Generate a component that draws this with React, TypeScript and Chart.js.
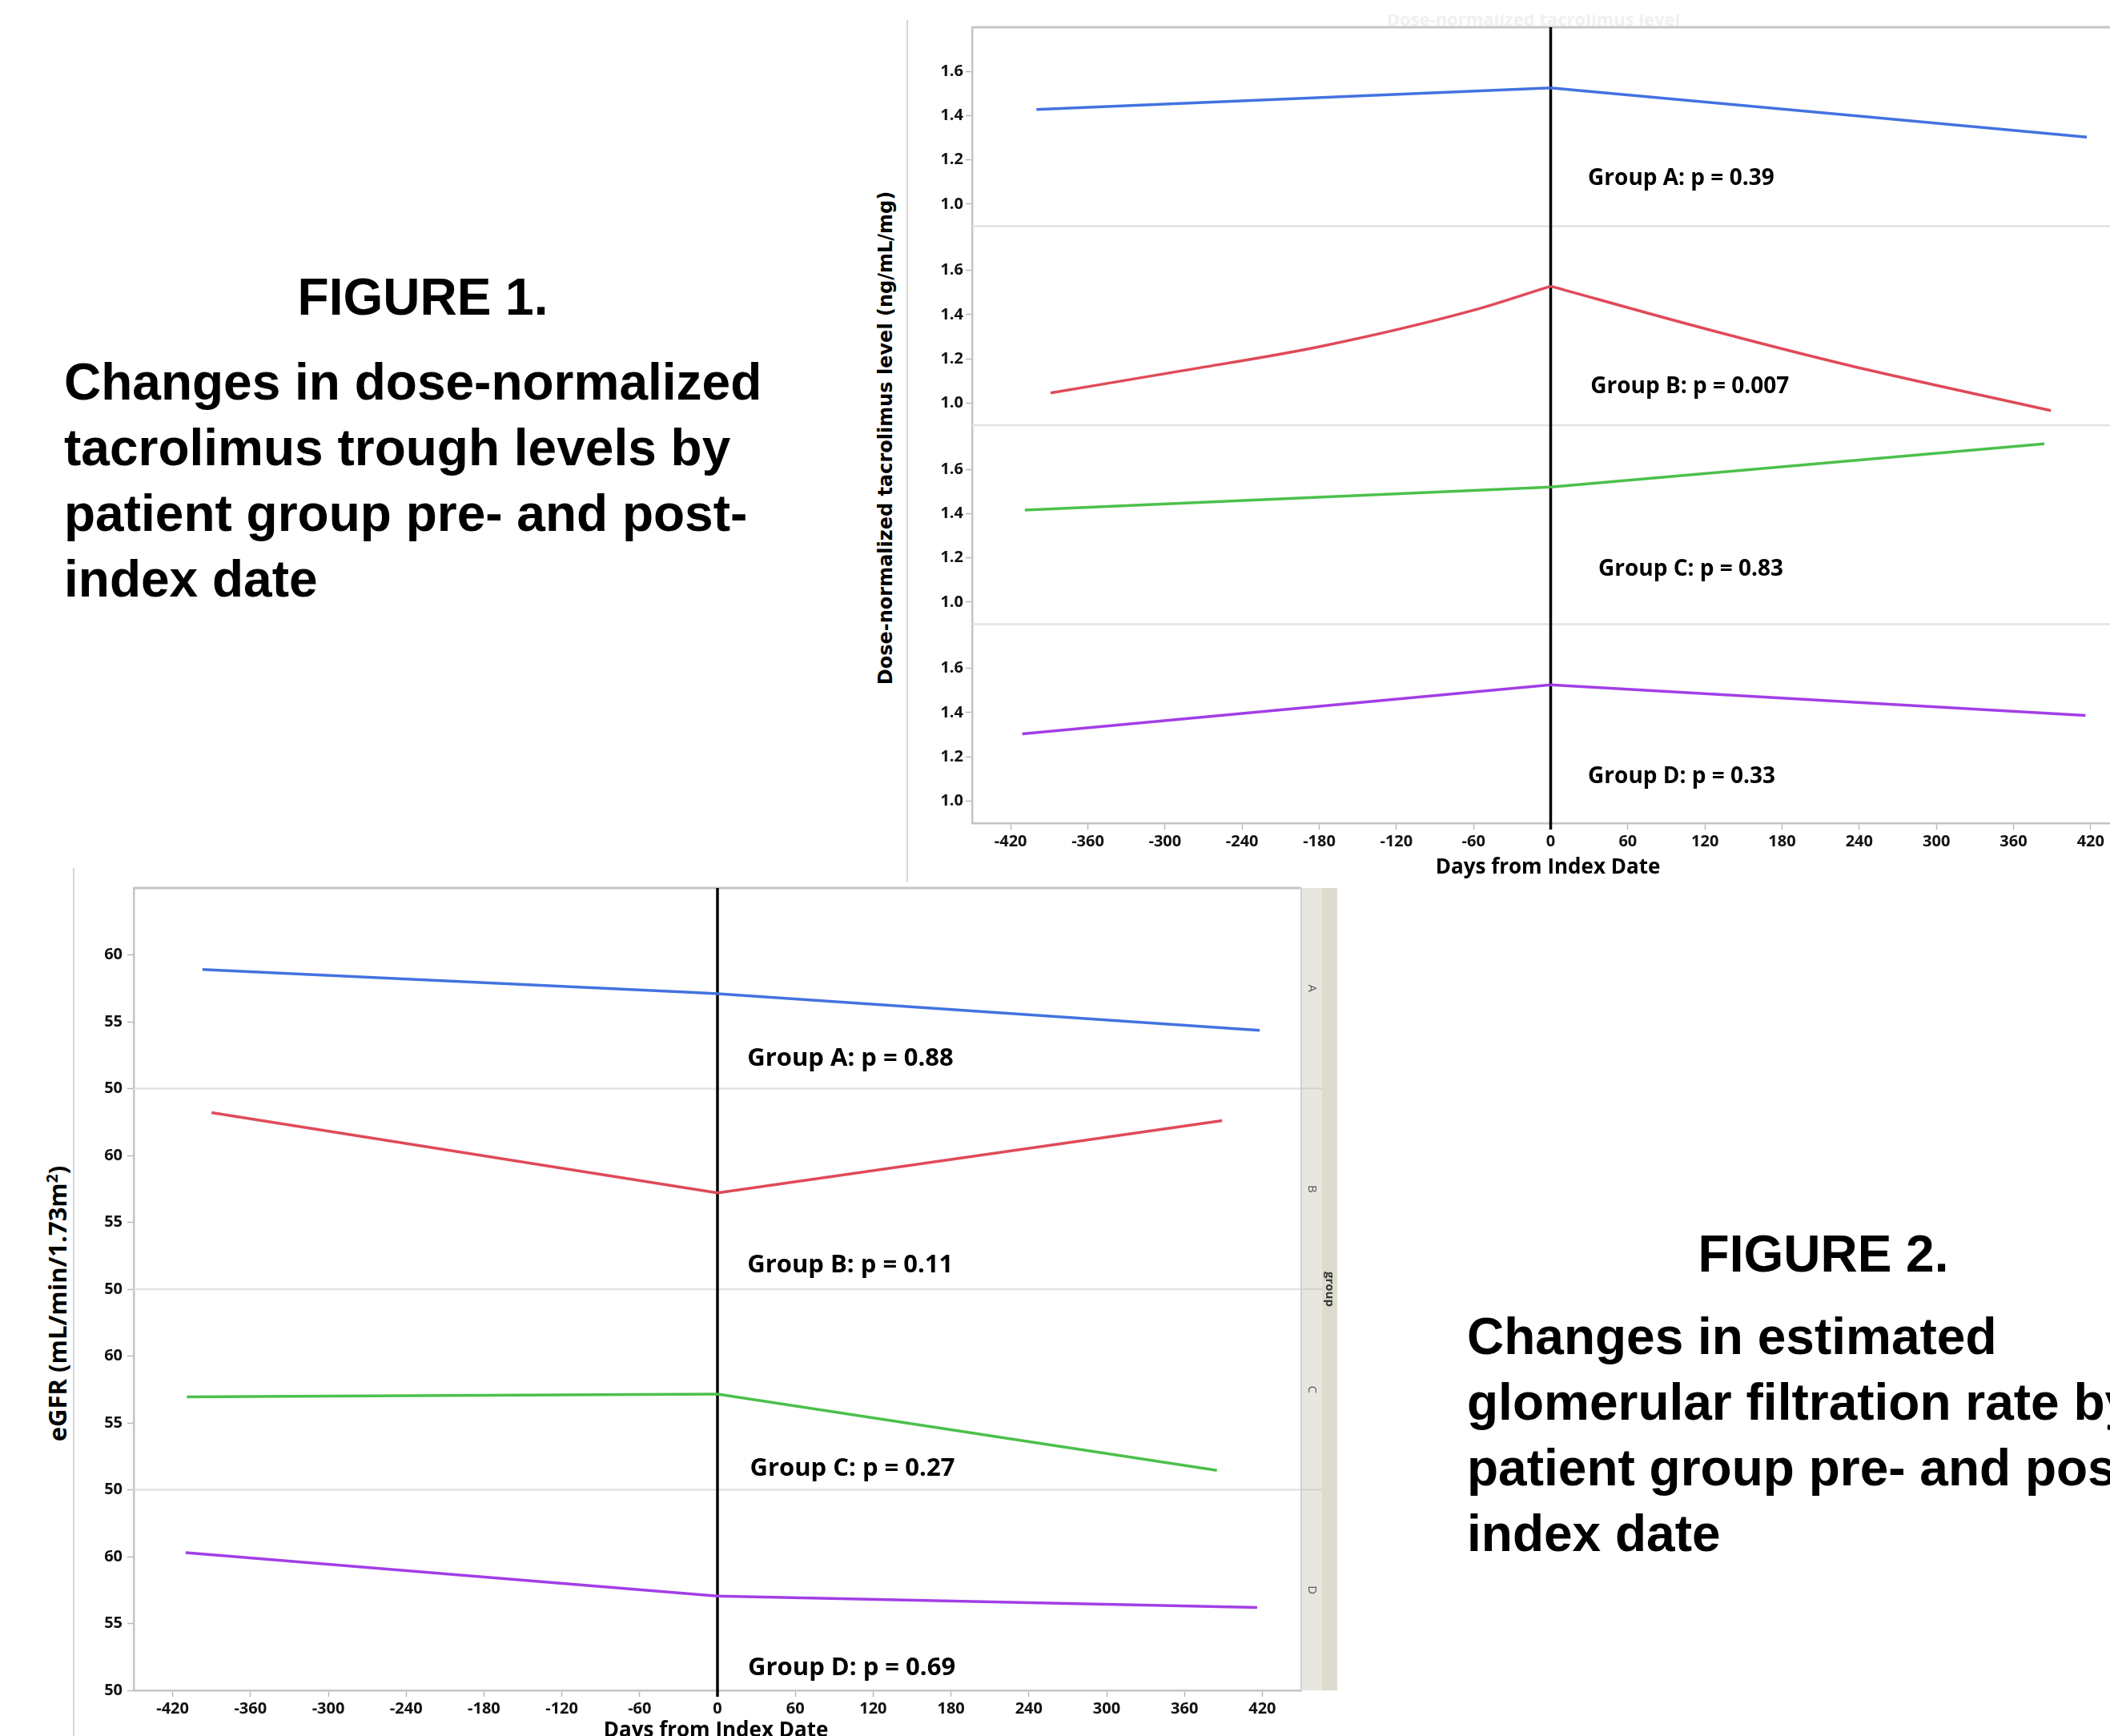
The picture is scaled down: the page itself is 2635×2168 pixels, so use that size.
import React, { useEffect, useRef } from "react";
import { Chart, registerables } from "chart.js";

Chart.register(...registerables);

// shared x axis: days from index date
const DAY_MIN = -450;
const DAY_MAX = 450;
const DAY_TICKS = [-420, -360, -300, -240, -180, -120, -60, 0, 60, 120, 180, 240, 300, 360, 420];
const GROUPS = ["A", "B", "C", "D"];
const GROUP_COLORS = ["#4372e0", "#e04a58", "#4cc04c", "#a23ee6"];

// Figure 1: dose-normalized tacrolimus level (ng/mL/mg)
const TAC_MIN = 0.9;
const TAC_MAX = 1.8;
const TAC_TICKS = [1.0, 1.2, 1.4, 1.6];
const TAC_A_DAYS = [-400, 0, 417];
const TAC_A = [1.428, 1.526, 1.303];
const TAC_B_DAYS = [-389, -288, -180, -60, 0, 112, 226, 389];
const TAC_B = [1.046, 1.145, 1.255, 1.42, 1.529, 1.349, 1.179, 0.966];
const TAC_C_DAYS = [-409, 0, 384];
const TAC_C = [1.416, 1.52, 1.716];
const TAC_D_DAYS = [-411, 0, 416];
const TAC_D = [1.304, 1.526, 1.387];
const TAC_NOTES = ["Group A: p = 0.39", "Group B: p = 0.007", "Group C: p = 0.83", "Group D: p = 0.33"];
const TAC_NOTE_DAYS = [29, 31, 37, 29];
const TAC_NOTE_LEVELS = [1.116, 1.074, 1.147, 1.11];

// Figure 2: eGFR (mL/min/1.73m2)
const GFR_MIN = 50;
const GFR_MAX = 65;
const GFR_TICKS = [50, 55, 60];
const GFR_A_DAYS = [-397, 0, 418];
const GFR_A = [58.9, 57.1, 54.35];
const GFR_B_DAYS = [-390, 0, 389];
const GFR_B = [63.2, 57.2, 62.6];
const GFR_C_DAYS = [-409, 0, 385];
const GFR_C = [56.95, 57.15, 51.45];
const GFR_D_DAYS = [-410, 0, 416];
const GFR_D = [60.3, 57.05, 56.2];
const GFR_NOTES = ["Group A: p = 0.88", "Group B: p = 0.11", "Group C: p = 0.27", "Group D: p = 0.69"];
const GFR_NOTE_DAYS = [23, 23, 25, 23.5];
const GFR_NOTE_VALUES = [52.25, 51.8, 51.6, 51.64];

const FIG1_LINES = ["Changes in dose-normalized", "tacrolimus trough levels by", "patient group pre- and post-", "index date"];
const FIG2_LINES = ["Changes in estimated", "glomerular filtration rate by", "patient group pre- and post-", "index date"];

const SANS = "'Open Sans', 'Liberation Sans', sans-serif";

interface PanelSpec {
  days: number[][];
  values: number[][];
  min: number;
  max: number;
  ticks: number[];
  decimals: number;
  notes: string[];
  noteDays: number[];
  noteValues: number[];
  tickSize: number;
  tickPad: number;
  noteSize: number;
  strip: boolean;
}

// split a series at the index date so each side can be drawn as its own smooth curve
function sides(days: number[], values: number[]) {
  const k = days.indexOf(0);
  const pts = days.map((d, i) => ({ x: d, y: values[i] }));
  return [pts.slice(0, k + 1), pts.slice(k)];
}

function makeConfig(spec: PanelSpec): any {
  const ids = GROUPS.map((g) => "y" + g);
  const tickFont = { family: SANS, weight: "bold" as const, size: spec.tickSize };

  const scales: any = {
    x: {
      type: "linear",
      min: DAY_MIN,
      max: DAY_MAX,
      afterBuildTicks: (s: any) => {
        s.ticks = DAY_TICKS.map((v) => ({ value: v }));
      },
      afterFit: (s: any) => {
        s.height = 60;
      },
      grid: { drawOnChartArea: false, tickLength: 8, tickWidth: 1.5, tickColor: "#b8b8b8" },
      border: { display: true, color: "#c4c4c4", width: 2.5 },
      ticks: { font: tickFont, color: "#111", padding: 3, maxRotation: 0, autoSkip: false, callback: (v: any) => String(v) },
    },
  };
  ids.forEach((id, i) => {
    scales[id] = {
      type: "linear",
      position: "left",
      stack: "groups",
      stackWeight: 1,
      weight: ids.length - i,
      min: spec.min,
      max: spec.max,
      afterBuildTicks: (s: any) => {
        s.ticks = spec.ticks.map((v) => ({ value: v }));
      },
      afterFit: (s: any) => {
        s.width = 60;
      },
      grid: { drawOnChartArea: false, tickLength: 8, tickWidth: 1.5, tickColor: "#b8b8b8" },
      border: { display: true, color: "#c4c4c4", width: 2.5 },
      ticks: {
        font: tickFont,
        color: "#111",
        padding: spec.tickPad,
        callback: (v: any) => Number(v).toFixed(spec.decimals),
      },
    };
  });

  const frame = {
    id: "panelFrame",
    beforeDatasetsDraw(chart: any) {
      const { ctx, chartArea } = chart;
      ctx.save();
      ctx.strokeStyle = "#e2e2e2";
      ctx.lineWidth = 2.5;
      ids.forEach((id, i) => {
        if (i === 0) return;
        const y = chart.scales[id].top;
        ctx.beginPath();
        ctx.moveTo(chartArea.left, y);
        ctx.lineTo(chartArea.right, y);
        ctx.stroke();
      });
      ctx.strokeStyle = "#c6c6c6";
      ctx.lineWidth = 3;
      ctx.beginPath();
      ctx.moveTo(chartArea.left, chartArea.top);
      ctx.lineTo(chartArea.right, chartArea.top);
      ctx.stroke();
      if (spec.strip) {
        ctx.strokeStyle = "#d0d0d0";
        ctx.lineWidth = 2;
        ctx.beginPath();
        ctx.moveTo(chartArea.right, chartArea.top);
        ctx.lineTo(chartArea.right, chartArea.bottom);
        ctx.stroke();
      }
      // index date
      const x0 = chart.scales.x.getPixelForValue(0);
      ctx.strokeStyle = "#000";
      ctx.lineWidth = 3.5;
      ctx.beginPath();
      ctx.moveTo(x0, chartArea.top);
      ctx.lineTo(x0, chartArea.bottom + 8);
      ctx.stroke();
      ctx.restore();
    },
    afterDatasetsDraw(chart: any) {
      const { ctx, chartArea } = chart;
      ctx.save();
      ctx.fillStyle = "#000";
      ctx.textAlign = "left";
      ctx.textBaseline = "middle";
      ctx.font = `bold ${spec.noteSize}px ${SANS}`;
      ids.forEach((id, i) => {
        const x = chart.scales.x.getPixelForValue(spec.noteDays[i]);
        const y = chart.scales[id].getPixelForValue(spec.noteValues[i]);
        ctx.fillText(spec.notes[i], x, y);
      });
      if (spec.strip) {
        const left = chartArea.right;
        const h = chartArea.bottom - chartArea.top;
        ctx.fillStyle = "#e7e7df";
        ctx.fillRect(left + 1, chartArea.top, 25, h);
        ctx.fillStyle = "#dcdbcd";
        ctx.fillRect(left + 26, chartArea.top, 19, h);
        ctx.strokeStyle = "#d2d2c8";
        ctx.lineWidth = 2;
        ids.forEach((id, i) => {
          const s = chart.scales[id];
          if (i > 0) {
            ctx.beginPath();
            ctx.moveTo(left, s.top);
            ctx.lineTo(left + 26, s.top);
            ctx.stroke();
          }
          ctx.save();
          ctx.translate(left + 13.5, (s.top + s.bottom) / 2);
          ctx.rotate(Math.PI / 2);
          ctx.fillStyle = "#555";
          ctx.textAlign = "center";
          ctx.font = `15px ${SANS}`;
          ctx.fillText(GROUPS[i], 0, 0);
          ctx.restore();
        });
        ctx.save();
        ctx.translate(left + 35.5, (chartArea.top + chartArea.bottom) / 2);
        ctx.rotate(Math.PI / 2);
        ctx.fillStyle = "#333";
        ctx.textAlign = "center";
        ctx.font = `bold 15px ${SANS}`;
        ctx.fillText("group", 0, 0);
        ctx.restore();
      }
      ctx.restore();
    },
  };

  const datasets: any[] = [];
  ids.forEach((id, i) => {
    sides(spec.days[i], spec.values[i]).forEach((pts) => {
      datasets.push({
        label: GROUPS[i],
        data: pts,
        xAxisID: "x",
        yAxisID: id,
        borderColor: GROUP_COLORS[i],
        borderWidth: 3.5,
        pointRadius: 0,
        fill: false,
        cubicInterpolationMode: "monotone",
        tension: 0.4,
      });
    });
  });

  return {
    type: "line",
    data: { datasets },
    options: {
      responsive: true,
      maintainAspectRatio: false,
      animation: false,
      layout: { padding: { top: 34, left: 0, right: spec.strip ? 50 : 0, bottom: 0 } },
      plugins: { legend: { display: false }, tooltip: { enabled: false } },
      scales,
    },
    plugins: [frame],
  };
}

const TAC_SPEC: PanelSpec = {
  days: [TAC_A_DAYS, TAC_B_DAYS, TAC_C_DAYS, TAC_D_DAYS],
  values: [TAC_A, TAC_B, TAC_C, TAC_D],
  min: TAC_MIN,
  max: TAC_MAX,
  ticks: TAC_TICKS,
  decimals: 1,
  notes: TAC_NOTES,
  noteDays: TAC_NOTE_DAYS,
  noteValues: TAC_NOTE_LEVELS,
  tickSize: 20,
  tickPad: 3,
  noteSize: 28,
  strip: false,
};

const GFR_SPEC: PanelSpec = {
  days: [GFR_A_DAYS, GFR_B_DAYS, GFR_C_DAYS, GFR_D_DAYS],
  values: [GFR_A, GFR_B, GFR_C, GFR_D],
  min: GFR_MIN,
  max: GFR_MAX,
  ticks: GFR_TICKS,
  decimals: 0,
  notes: GFR_NOTES,
  noteDays: GFR_NOTE_DAYS,
  noteValues: GFR_NOTE_VALUES,
  tickSize: 20,
  tickPad: 6,
  noteSize: 31,
  strip: true,
};

const bigFont = "bold 64px 'Liberation Sans', Arial, sans-serif";

export default function App() {
  const tacRef = useRef<HTMLCanvasElement>(null);
  const gfrRef = useRef<HTMLCanvasElement>(null);

  useEffect(() => {
    if (!tacRef.current || !gfrRef.current) return;
    const tac = new Chart(tacRef.current, makeConfig(TAC_SPEC));
    const gfr = new Chart(gfrRef.current, makeConfig(GFR_SPEC));
    return () => {
      tac.destroy();
      gfr.destroy();
    };
  }, []);

  return (
    <div
      style={{
        position: "fixed",
        left: 0,
        top: 0,
        width: 2635,
        height: 2168,
        overflow: "hidden",
        background: "#fff",
        color: "#000",
      }}
    >
      {/* figure 1 text */}
      <div style={{ position: "absolute", left: 0, top: 335, width: 1056, textAlign: "center", font: bigFont, lineHeight: "72px" }}>
        FIGURE 1.
      </div>
      <div style={{ position: "absolute", left: 80, top: 436, font: bigFont, lineHeight: "82px", whiteSpace: "nowrap" }}>
        {FIG1_LINES.map((l) => (
          <div key={l}>{l}</div>
        ))}
      </div>

      {/* figure 2 text */}
      <div style={{ position: "absolute", left: 1877, top: 1530, width: 800, textAlign: "center", font: bigFont, lineHeight: "72px" }}>
        FIGURE 2.
      </div>
      <div style={{ position: "absolute", left: 1832, top: 1628, font: bigFont, lineHeight: "82px", whiteSpace: "nowrap" }}>
        {FIG2_LINES.map((l) => (
          <div key={l}>{l}</div>
        ))}
      </div>

      {/* figure 1 chart */}
      <div style={{ position: "absolute", left: 1132, top: 25, width: 2, height: 1076, background: "#d6d6d6" }} />
      <div style={{ position: "absolute", left: 1665, top: 18, width: 500, height: 14, overflow: "hidden" }}>
        <div style={{ position: "absolute", left: 0, width: 500, top: -6, textAlign: "center", font: `bold 22px ${SANS}`, color: "#f0f0f0", lineHeight: "22px" }}>
          Dose-normalized tacrolimus level
        </div>
      </div>
      <div style={{ position: "absolute", left: 1154, top: 0, width: 1505, height: 1088 }}>
        <canvas ref={tacRef} />
      </div>
      <div
        style={{
          position: "absolute",
          left: 1106,
          top: 547,
          transform: "translate(-50%, -50%) rotate(-90deg)",
          whiteSpace: "nowrap",
          font: "bold 24px 'DejaVu Sans', Verdana, sans-serif",
        }}
      >
        Dose-normalized tacrolimus level (ng/mL/mg)
      </div>
      <div
        style={{
          position: "absolute",
          left: 1933,
          top: 1081,
          transform: "translate(-50%, -50%)",
          whiteSpace: "nowrap",
          font: `bold 26px ${SANS}`,
        }}
      >
        Days from Index Date
      </div>

      {/* figure 2 chart */}
      <div style={{ position: "absolute", left: 91, top: 1084, width: 2, height: 1084, background: "#d6d6d6" }} />
      <div style={{ position: "absolute", left: 107, top: 1075, width: 1568, height: 1096 }}>
        <canvas ref={gfrRef} />
      </div>
      <div
        style={{
          position: "absolute",
          left: 71,
          top: 1628,
          transform: "translate(-50%, -50%) rotate(-90deg)",
          whiteSpace: "nowrap",
          font: `bold 31px ${SANS}`,
        }}
      >
        eGFR (mL/min/1.73m<span style={{ fontSize: "0.62em", verticalAlign: "super" }}>2</span>)
      </div>
      <div
        style={{
          position: "absolute",
          left: 894,
          top: 2159,
          transform: "translate(-50%, -50%)",
          whiteSpace: "nowrap",
          font: `bold 26px ${SANS}`,
        }}
      >
        Days from Index Date
      </div>
    </div>
  );
}
